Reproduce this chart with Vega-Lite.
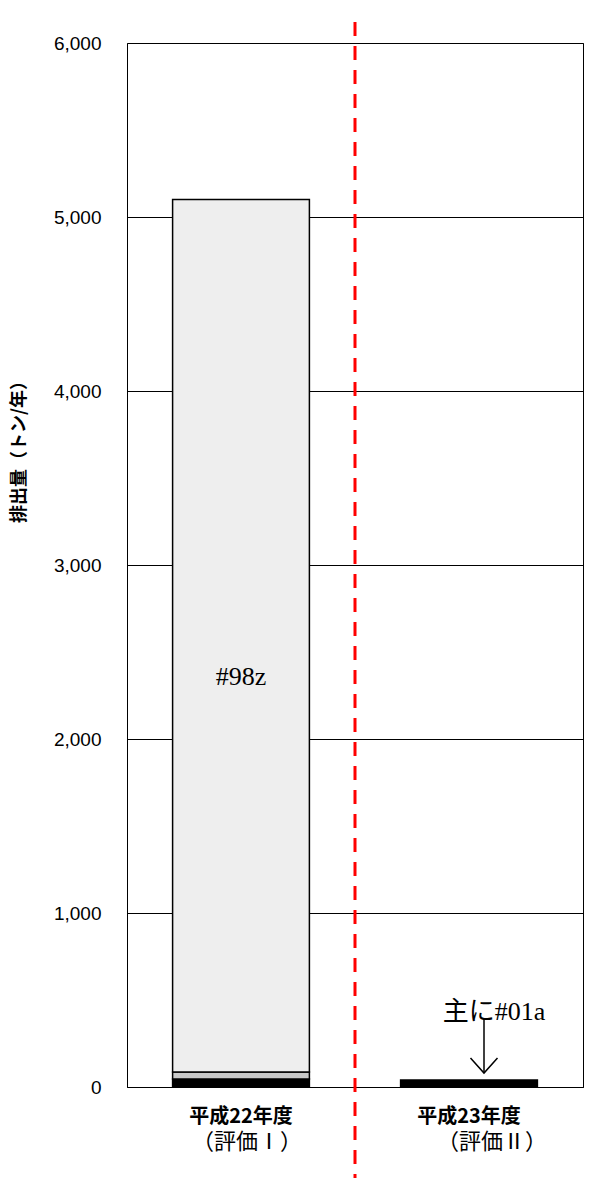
{
  "$schema": "https://vega.github.io/schema/vega-lite/v6.json",
  "width": 456,
  "height": 1044,
  "autosize": "none",
  "padding": {"left": 127, "top": 43, "right": 6, "bottom": 93},
  "background": "white",
  "config": {
    "view": {"stroke": "#000000", "strokeWidth": 1},
    "axis": {"domainColor": "#000000", "gridColor": "#000000", "gridOpacity": 1}
  },
  "encoding": {
    "x": {
      "field": "year", "type": "nominal",
      "scale": {"domain": ["平成22年度", "平成23年度"], "paddingInner": 0, "paddingOuter": 0},
      "axis": {
        "title": null, "labelAngle": 0, "ticks": false, "grid": false,
        "labelFont": "Noto Sans CJK JP", "labelFontSize": 20, "labelFontWeight": "bold",
        "labelColor": "#000000", "labelPadding": 19, "labelBaseline": "top",
        "domainColor": "#000000", "domainWidth": 1
      }
    },
    "y": {
      "field": "value", "type": "quantitative",
      "scale": {"domain": [0, 6000], "nice": false},
      "axis": {
        "values": [0, 1000, 2000, 3000, 4000, 5000, 6000],
        "format": ",d", "grid": true, "gridWidth": 1, "ticks": false, "domain": false,
        "labelFont": "Liberation Sans", "labelFontSize": 19, "labelColor": "#000000",
        "labelPadding": 26,
        "title": "排出量（トン/年）", "titleFont": "Noto Sans CJK JP", "titleFontSize": 18,
        "titleFontWeight": "bold", "titleColor": "#000000", "titleAngle": -90,
        "titleX": -108, "titleY": 404, "titleAlign": "center", "titleBaseline": "middle"
      }
    }
  },
  "layer": [
    {
      "data": {
        "values": [
          {"year": "平成22年度", "part": "#01a", "order": 1, "value": 46},
          {"year": "平成22年度", "part": "other", "order": 2, "value": 40},
          {"year": "平成22年度", "part": "#98z", "order": 3, "value": 5014},
          {"year": "平成23年度", "part": "#01a", "order": 1, "value": 40}
        ]
      },
      "mark": {"type": "bar", "width": {"band": 0.6}, "stroke": "#000000", "strokeWidth": 1.5},
      "encoding": {
        "color": {
          "field": "part", "type": "nominal",
          "scale": {"domain": ["#01a", "other", "#98z"], "range": ["#000000", "#c8c8c8", "#eeeeee"]},
          "legend": null
        },
        "order": {"field": "order", "type": "quantitative"}
      }
    },
    {
      "data": {"values": [{"year": "平成22年度", "value": 2356, "label": "#98z"}]},
      "mark": {"type": "text", "font": "Liberation Serif", "fontSize": 26, "color": "#000000", "align": "center", "baseline": "middle"},
      "encoding": {"text": {"field": "label"}}
    },
    {
      "data": {"values": [{"year": "平成23年度", "value": 431, "label": "主に#01a"}]},
      "mark": {"type": "text", "font": "Liberation Serif, Noto Sans CJK JP", "fontSize": 26, "color": "#000000", "align": "center", "baseline": "middle", "dx": 25},
      "encoding": {"text": {"field": "label"}}
    },
    {
      "data": {"values": [{"year": "平成23年度", "value": 397, "value2": 80}]},
      "mark": {"type": "rule", "color": "#000000", "strokeWidth": 1.5, "xOffset": 15},
      "encoding": {"y2": {"field": "value2"}}
    },
    {
      "data": {"values": [{"year": "平成23年度", "value": 80}]},
      "mark": {"type": "point", "shape": "M-1,-1.11L0,0L1,-1.11", "size": 729, "filled": false, "stroke": "#000000", "strokeWidth": 1.5, "opacity": 1, "xOffset": 15},
      "encoding": {}
    },
    {
      "data": {"values": [{"year": "平成22年度", "value": -316, "label": "（評価Ⅰ）"}]},
      "mark": {"type": "text", "font": "Liberation Serif, Noto Sans CJK JP", "fontSize": 22, "color": "#000000", "align": "center", "baseline": "middle", "dx": 6},
      "encoding": {"text": {"field": "label"}}
    },
    {
      "data": {"values": [{"year": "平成23年度", "value": -316, "label": "（評価Ⅱ）"}]},
      "mark": {"type": "text", "font": "Liberation Serif, Noto Sans CJK JP", "fontSize": 22, "color": "#000000", "align": "center", "baseline": "middle", "dx": 23},
      "encoding": {"text": {"field": "label"}}
    },
    {
      "data": {"values": [{"year": "平成22年度", "value": 6121, "value2": -523}]},
      "mark": {"type": "rule", "color": "#ff0000", "strokeWidth": 3, "strokeDash": [14, 10]},
      "encoding": {
        "x": {"field": "year", "type": "nominal", "bandPosition": 1},
        "y2": {"field": "value2"}
      }
    }
  ]
}
